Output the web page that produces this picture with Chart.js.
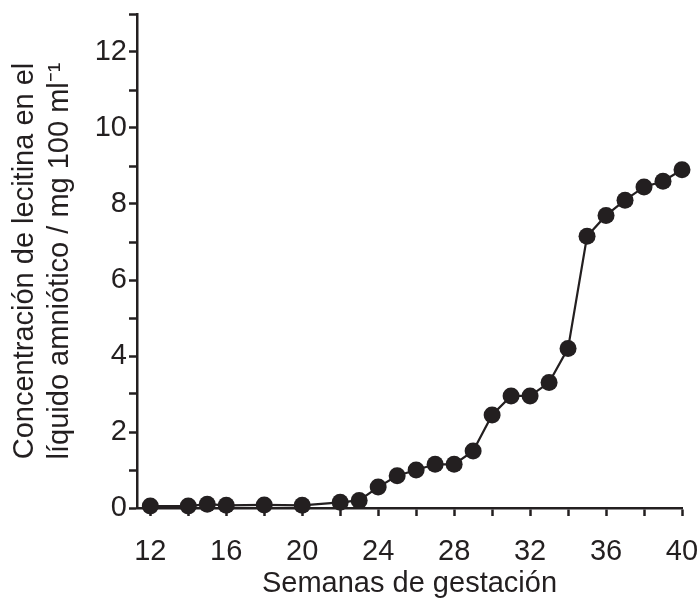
<!DOCTYPE html>
<html>
<head>
<meta charset="utf-8">
<script src="https://cdn.jsdelivr.net/npm/chart.js@4/dist/chart.umd.min.js"></script>
<style>
  html, body { margin: 0; padding: 0; background: #fff; }
  #wrap { width: 700px; height: 601px; }
</style>
</head>
<body>
<div id="wrap"><canvas id="chart"></canvas></div>
<script>
// weeks of gestation and lecithin concentration (mg / 100 ml)
const weeks = [12, 14, 15, 16, 18, 20, 22, 23, 24, 25, 26, 27, 28, 29, 30, 31, 32, 33, 34, 35, 36, 37, 38, 39, 40];
const lecithin = [0.05, 0.05, 0.1, 0.07, 0.08, 0.07, 0.15, 0.2, 0.55, 0.85, 1.0, 1.15, 1.15, 1.5, 2.45, 2.95, 2.95, 3.3, 4.2, 7.15, 7.7, 8.1, 8.45, 8.6, 8.9];

// tick positions (labels only on the "major" ones)
const xTicks = [12, 14, 16, 18, 20, 22, 24, 26, 28, 30, 32, 34, 36, 38, 40];
const xLabels = [12, 16, 20, 24, 28, 32, 36, 40];
const yTicks = [0, 1, 2, 3, 4, 5, 6, 7, 8, 9, 10, 11, 12, 13];
const yLabels = [0, 2, 4, 6, 8, 10, 12];

const ink = "#231f20";
const font = "'Liberation Sans', Arial, sans-serif";
const fontSize = 29;

// minor ticks get a tiny font so they don't reserve label space
function tickFont(labels) {
  return (c) => ({ family: font, size: labels.includes(c.tick && c.tick.value) ? fontSize : 1 });
}

const ctx = document.getElementById("chart").getContext("2d");
new Chart(ctx, {
  type: "line",
  data: {
    datasets: [{
      data: weeks.map((w, i) => ({ x: w, y: lecithin[i] })),
      borderColor: ink,
      backgroundColor: ink,
      borderWidth: 2.2,
      pointRadius: 8.5,
      pointBackgroundColor: ink,
      pointBorderWidth: 0,
      tension: 0,
      clip: false
    }]
  },
  options: {
    responsive: true,
    maintainAspectRatio: false,
    animation: false,
    layout: { autoPadding: false, padding: { top: 14, right: 18, left: 0, bottom: 0 } },
    plugins: { legend: { display: false }, tooltip: { enabled: false } },
    scales: {
      x: {
        type: "linear",
        min: 11.3,
        max: 40,
        afterBuildTicks: (axis) => { axis.ticks = xTicks.map(v => ({ value: v })); },
        afterFit: (axis) => { axis.height = 93; axis.paddingLeft = 0; axis.paddingRight = 0; },
        border: { display: true, color: ink, width: 2.5 },
        grid: { drawOnChartArea: false, drawTicks: true, tickLength: 8, tickWidth: 2.5, tickColor: ink },
        ticks: {
          autoSkip: false,
          maxRotation: 0,
          padding: 19,
          color: ink,
          font: tickFont(xLabels),
          callback: (v) => xLabels.includes(v) ? String(v) : ""
        },
        title: {
          display: true,
          text: "Semanas de gestación",
          color: ink,
          font: { family: font, size: fontSize },
          padding: { top: 0, bottom: 0 }
        }
      },
      y: {
        type: "linear",
        min: 0,
        max: 13,
        afterBuildTicks: (axis) => { axis.ticks = yTicks.map(v => ({ value: v })); },
        afterFit: (axis) => { axis.width = 137; axis.paddingTop = 0; axis.paddingBottom = 0; },
        border: { display: true, color: ink, width: 2.5 },
        grid: { drawOnChartArea: false, drawTicks: true, tickLength: 8, tickWidth: 2.5, tickColor: ink },
        ticks: {
          autoSkip: false,
          padding: 2,
          color: ink,
          font: tickFont(yLabels),
          callback: (v) => yLabels.includes(v) ? String(v) : ""
        },
        title: {
          display: true,
          text: ["Concentración de lecitina en el", "líquido amniótico / mg 100 ml⁻¹"],
          color: ink,
          font: { family: font, size: fontSize, lineHeight: 1.2 },
          padding: { top: 8, bottom: 0 }
        }
      }
    }
  }
});
</script>
</body>
</html>
